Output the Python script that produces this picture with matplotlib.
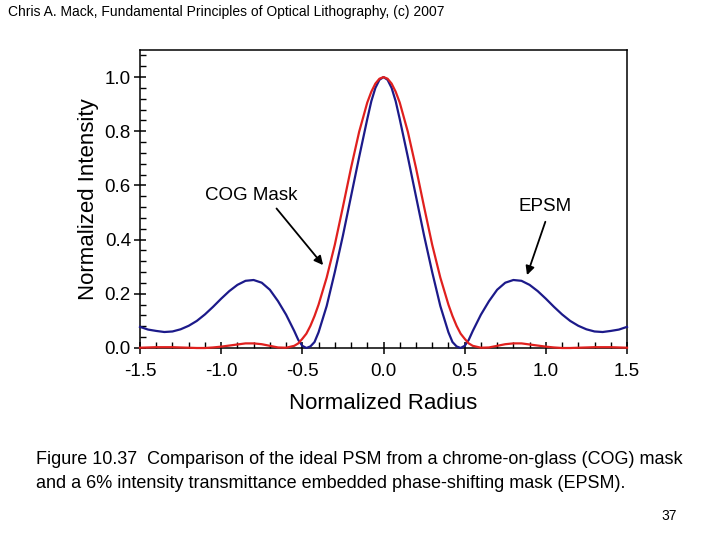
import matplotlib
matplotlib.use("Agg")
import matplotlib.pyplot as plt
from matplotlib.ticker import MultipleLocator, FormatStrFormatter

plt.rcParams['font.family'] = ['Liberation Sans', 'DejaVu Sans']
plt.rcParams['axes.unicode_minus'] = False

# Normalized radius samples
radius = [-1.50, -1.45, -1.40, -1.35, -1.30, -1.25, -1.20, -1.15, -1.10, -1.05,
          -1.00, -0.95, -0.90, -0.85, -0.80, -0.75, -0.70, -0.65, -0.60, -0.55,
          -0.525, -0.50, -0.475, -0.45, -0.425, -0.40, -0.35, -0.30, -0.25, -0.20,
          -0.15, -0.10, -0.075, -0.05, -0.025,
          0.00,
          0.025, 0.05, 0.075, 0.10, 0.15,
          0.20, 0.25, 0.30, 0.35, 0.40, 0.425, 0.45, 0.475, 0.50, 0.525,
          0.55, 0.60, 0.65, 0.70, 0.75, 0.80, 0.85, 0.90, 0.95, 1.00,
          1.05, 1.10, 1.15, 1.20, 1.25, 1.30, 1.35, 1.40, 1.45, 1.50]

# EPSM (blue) normalized intensity
epsm = [0.078, 0.068, 0.063, 0.059, 0.061, 0.069, 0.082, 0.100, 0.124, 0.152,
        0.182, 0.210, 0.233, 0.248, 0.251, 0.241, 0.215, 0.173, 0.123, 0.063,
        0.030, 0.008, 0.000, 0.006, 0.022, 0.058, 0.155, 0.280, 0.415, 0.560,
        0.705, 0.845, 0.911, 0.960, 0.990,
        1.000,
        0.990, 0.960, 0.911, 0.845, 0.705,
        0.560, 0.415, 0.280, 0.155, 0.058, 0.022, 0.006, 0.000, 0.008, 0.030,
        0.063, 0.123, 0.173, 0.215, 0.241, 0.251, 0.248, 0.233, 0.210, 0.182,
        0.152, 0.124, 0.100, 0.082, 0.069, 0.061, 0.059, 0.063, 0.068, 0.078]

# COG (red) normalized intensity
cog = [0.001, 0.002, 0.003, 0.003, 0.003, 0.002, 0.001, 0.000, 0.000, 0.002,
       0.005, 0.009, 0.013, 0.017, 0.017, 0.014, 0.008, 0.002, 0.001, 0.008,
       0.017, 0.034, 0.053, 0.082, 0.118, 0.160, 0.260, 0.381, 0.521, 0.665,
       0.798, 0.906, 0.946, 0.976, 0.994,
       1.000,
       0.994, 0.976, 0.946, 0.906, 0.798,
       0.665, 0.521, 0.381, 0.260, 0.160, 0.118, 0.082, 0.053, 0.034, 0.017,
       0.008, 0.001, 0.002, 0.008, 0.014, 0.017, 0.017, 0.013, 0.009, 0.005,
       0.002, 0.000, 0.000, 0.001, 0.002, 0.003, 0.003, 0.003, 0.002, 0.001]

xticks = [-1.5, -1.0, -0.5, 0.0, 0.5, 1.0, 1.5]
yticks = [0.0, 0.2, 0.4, 0.6, 0.8, 1.0]

fig = plt.figure(figsize=(7.2, 5.4), dpi=100)
ax = fig.add_axes([140/720, 1-348/540, (627-140)/720, (348-50)/540])

ax.plot(radius, epsm, color='#1c1a8a', lw=1.6, clip_on=False, zorder=3)
ax.plot(radius, cog, color='#e0201e', lw=1.6, clip_on=False, zorder=4)

ax.set_xlim(-1.5, 1.5)
ax.set_ylim(0, 1.1)
ax.set_xticks(xticks)
ax.set_yticks(yticks)
ax.xaxis.set_major_formatter(FormatStrFormatter('%.1f'))
ax.yaxis.set_major_formatter(FormatStrFormatter('%.1f'))
ax.xaxis.set_minor_locator(MultipleLocator(0.1))
ax.yaxis.set_minor_locator(MultipleLocator(0.04))
ax.tick_params(which='major', direction='inout', length=9, width=1.1,
               labelsize=13.5)
ax.tick_params(axis='x', which='major', pad=6)
ax.tick_params(axis='y', which='major', pad=2)
ax.tick_params(which='minor', direction='in', length=4, width=1.0)
ax.tick_params(top=False, right=False, which='both')
for s in ax.spines.values():
    s.set_linewidth(1.1)

ax.set_xlabel('Normalized Radius', fontsize=16, labelpad=10)
ax.set_ylabel('Normalized Intensity', fontsize=16, labelpad=4)

ax.text(-0.813, 0.562, 'COG Mask', fontsize=13.5, ha='center', va='center')
ax.text(0.997, 0.521, 'EPSM', fontsize=13.5, ha='center', va='center')
arrow = dict(arrowstyle='-|>', color='black', lw=1.3, mutation_scale=13,
             shrinkA=0, shrinkB=0)
ax.annotate('', xy=(-0.372, 0.306), xytext=(-0.659, 0.515), arrowprops=arrow)
ax.annotate('', xy=(0.884, 0.269), xytext=(0.997, 0.466), arrowprops=arrow)

fig.text(8/720, 1-12/540, 'Chris A. Mack, Fundamental Principles of Optical Lithography, (c) 2007',
         fontsize=10, ha='left', va='center')
fig.text(36/720, 1-460/540,
         'Figure 10.37  Comparison of the ideal PSM from a chrome-on-glass (COG) mask',
         fontsize=13, ha='left', va='center')
fig.text(36/720, 1-483/540,
         'and a 6% intensity transmittance embedded phase-shifting mask (EPSM).',
         fontsize=13, ha='left', va='center')
fig.text(669/720, 1-516/540, '37', fontsize=10, ha='center', va='center')

fig.savefig('out.png', dpi=100)
